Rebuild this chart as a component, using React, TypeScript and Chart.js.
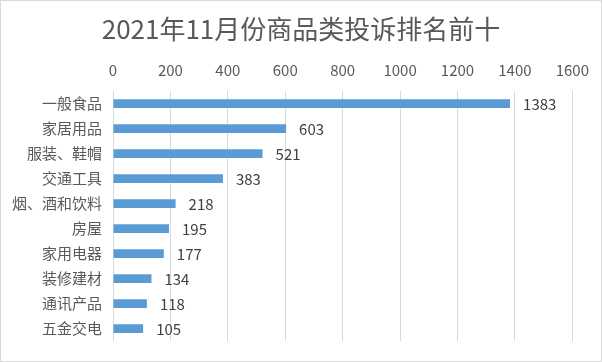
import React, { useEffect, useRef } from "react";
import { Chart, registerables } from "chart.js";

Chart.register(...registerables);

const titleText = "2021年11月份商品类投诉排名前十";
const categories = ["一般食品", "家居用品", "服装、鞋帽", "交通工具", "烟、酒和饮料", "房屋", "家用电器", "装修建材", "通讯产品", "五金交电"];
const values = [1383, 603, 521, 383, 218, 195, 177, 134, 118, 105];
const xMin = 0;
const xMax = 1600;
const xStep = 200;

const FONT = "'Microsoft YaHei', 'Noto Sans CJK SC', sans-serif";

const dataLabels = {
  id: "dataLabels",
  afterDatasetsDraw(chart: any) {
    const ctx = chart.ctx;
    const meta = chart.getDatasetMeta(0);
    ctx.save();
    ctx.font = `15px ${FONT}`;
    ctx.fillStyle = "#404040";
    ctx.textAlign = "left";
    ctx.textBaseline = "middle";
    meta.data.forEach((bar: any, i: number) => {
      ctx.fillText(String(values[i]), bar.x + 13, bar.y + 1);
    });
    ctx.restore();
  },
};

const centeredTitle = {
  id: "centeredTitle",
  afterDraw(chart: any) {
    const ctx = chart.ctx;
    ctx.save();
    ctx.font = `26px ${FONT}`;
    ctx.fillStyle = "#595959";
    ctx.textAlign = "center";
    ctx.textBaseline = "middle";
    ctx.fillText(titleText, chart.width / 2, 28);
    ctx.restore();
  },
};

export default function App() {
  const ref = useRef<HTMLCanvasElement>(null);
  useEffect(() => {
    document.body.style.margin = "0";
    const chart = new Chart(ref.current!, {
      type: "bar",
      data: {
        labels: categories,
        datasets: [
          {
            data: values,
            backgroundColor: "#5B9BD5",
            barPercentage: 0.7,
            categoryPercentage: 0.5,
          },
        ],
      },
      options: {
        indexAxis: "y",
        animation: false,
        responsive: false,
        maintainAspectRatio: false,
        layout: { padding: { left: 0, right: 27, bottom: 18, top: 44 } },
        plugins: {
          legend: { display: false },
          tooltip: { enabled: false },
          title: { display: false },
        },
        scales: {
          x: {
            position: "top",
            min: xMin,
            max: xMax,
            ticks: {
              stepSize: xStep,
              color: "#595959",
              font: { family: FONT, size: 15 },
              padding: 12,
              callback: (v: any) => String(v),
            },
            grid: { color: "#d9d9d9", drawTicks: false },
            border: { display: false },
            afterFit(scale: any) {
              scale.height = 46;
            },
          },
          y: {
            ticks: {
              color: "#595959",
              font: { family: FONT, size: 15 },
              padding: 11,
            },
            grid: { display: false, drawTicks: false },
            border: { display: false },
            afterFit(scale: any) {
              scale.width = 112;
            },
          },
        },
      },
      plugins: [dataLabels, centeredTitle],
    });
    return () => chart.destroy();
  }, []);
  return (
    <div
      style={{
        width: 602,
        height: 362,
        boxSizing: "border-box",
        border: "1px solid #d9d9d9",
        background: "#fff",
      }}
    >
      <canvas ref={ref} width={600} height={360} style={{ display: "block" }} />
    </div>
  );
}
